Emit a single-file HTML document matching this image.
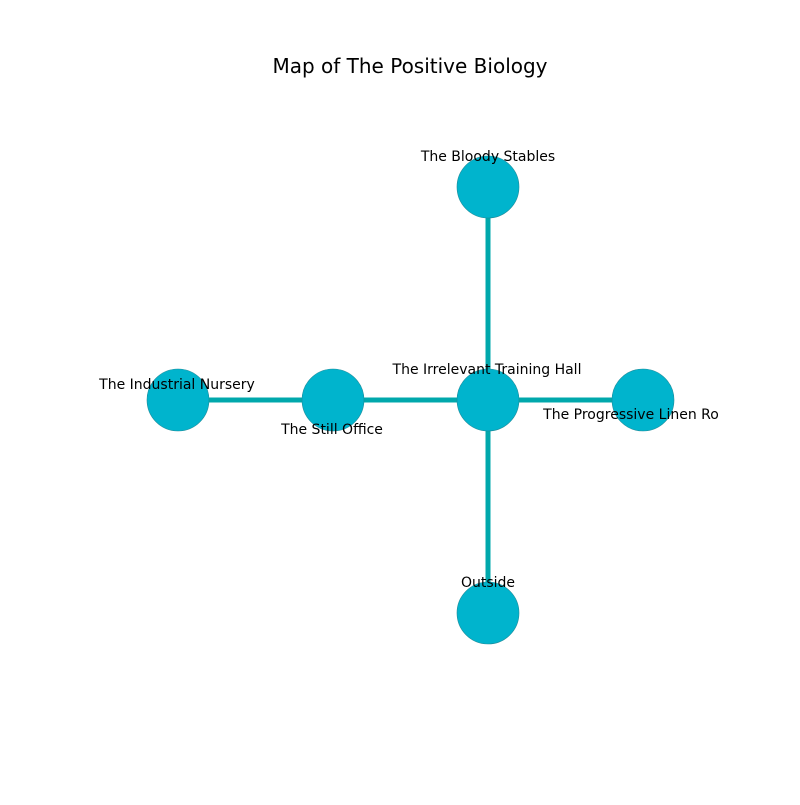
<!DOCTYPE html>
<html><head><style>body{margin:0;background:#fff}</style></head><body>
<svg width="800" height="800" xmlns="http://www.w3.org/2000/svg" font-family="DejaVu Sans, sans-serif">
<rect width="800" height="800" fill="#fff"/>
<text x="410" y="73" font-size="20" text-anchor="middle" fill="#000">Map of The Positive Biology</text>
<g stroke="#00a8ac" stroke-width="5">
<line x1="178" y1="400" x2="643" y2="400"/>
<line x1="488" y1="187" x2="488" y2="613"/>
</g>
<g fill="#00b4cd" stroke="#1a8a99" stroke-width="0.6">
<circle cx="488" cy="187" r="31"/>
<circle cx="178" cy="400" r="31"/>
<circle cx="333" cy="400" r="31"/>
<circle cx="488" cy="400" r="31"/>
<circle cx="643" cy="400" r="31"/>
<circle cx="488" cy="613" r="31"/>
</g>
<g font-size="14" fill="#000" text-anchor="middle">
<text x="488" y="161">The Bloody Stables</text>
<text x="177" y="389">The Industrial Nursery</text>
<text x="332" y="434">The Still Office</text>
<text x="487" y="374">The Irrelevant Training Hall</text>
<text x="631" y="419">The Progressive Linen Ro</text>
<text x="488" y="587">Outside</text>
</g>
</svg>
</body></html>
